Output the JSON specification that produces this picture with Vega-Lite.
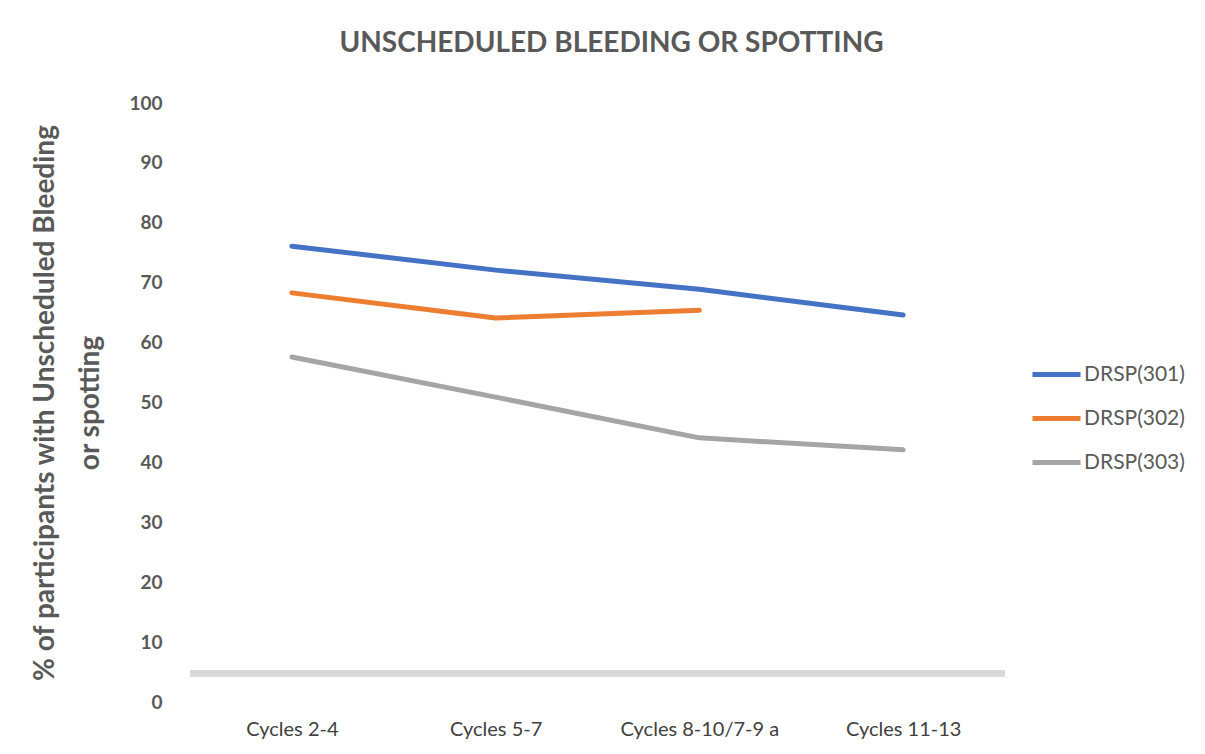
{
  "$schema": "https://vega.github.io/schema/vega-lite/v6.json",
  "autosize": "none",
  "width": 815,
  "height": 599,
  "padding": {"left": 190, "top": 103, "right": 200, "bottom": 52},
  "background": "white",
  "config": {"view": {"stroke": null}, "font": "Lato"},
  "title": {
    "text": "UNSCHEDULED BLEEDING OR SPOTTING",
    "font": "Lato",
    "fontSize": 28,
    "fontWeight": "bold",
    "color": "#595959",
    "offset": 36,
    "dx": 14
  },
  "data": {
    "values": [
      {"cycle": "Cycles 2-4", "series": "DRSP(301)", "pct": 76.1},
      {"cycle": "Cycles 5-7", "series": "DRSP(301)", "pct": 72.1},
      {"cycle": "Cycles 8-10/7-9 a", "series": "DRSP(301)", "pct": 68.9},
      {"cycle": "Cycles 11-13", "series": "DRSP(301)", "pct": 64.6},
      {"cycle": "Cycles 2-4", "series": "DRSP(302)", "pct": 68.3},
      {"cycle": "Cycles 5-7", "series": "DRSP(302)", "pct": 64.1},
      {"cycle": "Cycles 8-10/7-9 a", "series": "DRSP(302)", "pct": 65.4},
      {"cycle": "Cycles 2-4", "series": "DRSP(303)", "pct": 57.6},
      {"cycle": "Cycles 5-7", "series": "DRSP(303)", "pct": 50.9},
      {"cycle": "Cycles 8-10/7-9 a", "series": "DRSP(303)", "pct": 44.1},
      {"cycle": "Cycles 11-13", "series": "DRSP(303)", "pct": 42.1}
    ]
  },
  "layer": [
    {
      "mark": {"type": "rule", "color": "#d9d9d9", "strokeWidth": 6},
      "encoding": {"y": {"datum": 4.8, "type": "quantitative"}}
    },
    {
      "mark": {"type": "line", "strokeWidth": 5, "strokeCap": "round", "strokeJoin": "round"},
      "encoding": {
        "x": {
          "field": "cycle",
          "type": "ordinal",
          "sort": ["Cycles 2-4", "Cycles 5-7", "Cycles 8-10/7-9 a", "Cycles 11-13"],
          "scale": {"type": "point", "padding": 0.5},
          "axis": {
            "title": null,
            "domain": false,
            "ticks": false,
            "labelAngle": 0,
            "labelFont": "Lato",
            "labelFontSize": 20,
            "labelColor": "#404040",
            "labelPadding": 17
          }
        },
        "y": {
          "field": "pct",
          "type": "quantitative",
          "scale": {"domain": [0, 100]},
          "axis": {
            "title": ["% of participants with Unscheduled Bleeding", "or spotting"],
            "titleFont": "Lato",
            "titleFontSize": 28,
            "titleFontWeight": "bold",
            "titleColor": "#595959",
            "titlePadding": 24,
            "titleLineHeight": 45,
            "values": [0, 10, 20, 30, 40, 50, 60, 70, 80, 90, 100],
            "domain": false,
            "ticks": false,
            "grid": false,
            "labelFont": "Lato",
            "labelFontSize": 19,
            "labelFontWeight": "bold",
            "labelColor": "#595959",
            "labelPadding": 28
          }
        },
        "color": {
          "field": "series",
          "type": "nominal",
          "scale": {
            "domain": ["DRSP(301)", "DRSP(302)", "DRSP(303)"],
            "range": ["#4472C4", "#ED7D31", "#A5A5A5"]
          },
          "legend": {
            "title": null,
            "orient": "none",
            "legendX": 840,
            "legendY": 245,
            "symbolType": "stroke",
            "symbolSize": 2304,
            "symbolStrokeWidth": 5,
            "labelFont": "Lato",
            "labelFontSize": 21,
            "labelColor": "#595959",
            "labelOffset": 1,
            "rowPadding": 7
          }
        }
      }
    }
  ]
}
